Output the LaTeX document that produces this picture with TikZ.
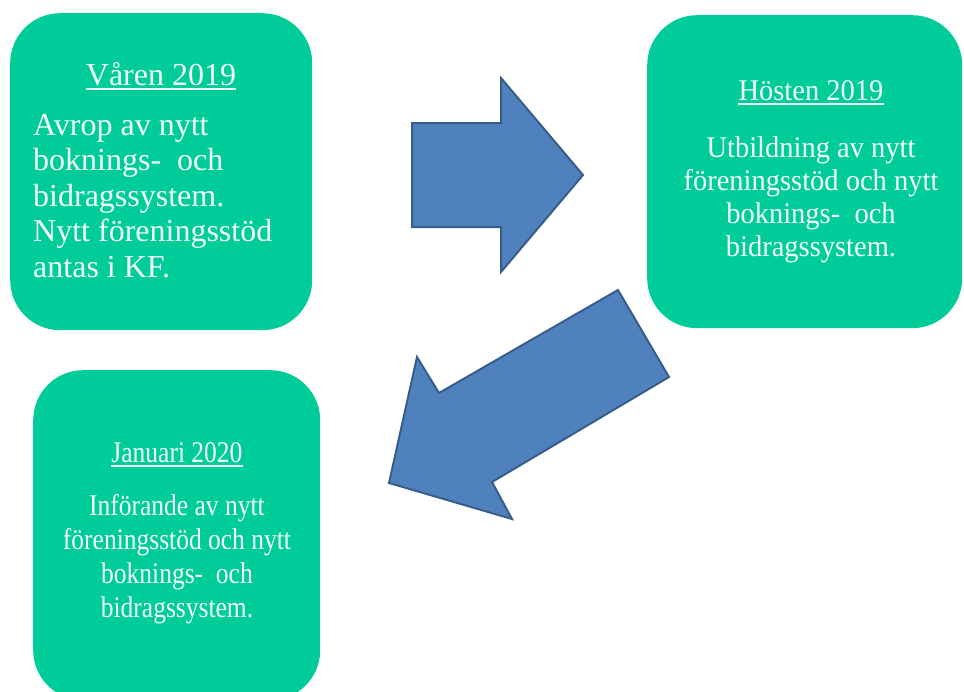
\documentclass[tikz,border=0pt]{standalone}
\usepackage{fontspec}
\setmainfont{Liberation Serif}
\newfontfamily\condensedserif[FakeStretch=0.85]{Liberation Serif}
\newfontfamily\narrowserif[FakeStretch=0.95]{Liberation Serif}
\definecolor{cardgreen}{HTML}{00CC99}
\definecolor{arrowfill}{HTML}{4F81BD}
\definecolor{arrowline}{HTML}{385D8A}
\definecolor{cardtextcol}{HTML}{F2FFFA}
\begin{document}
\begin{tikzpicture}[x=1pt,y=-1pt,
  card/.style={fill=cardgreen, draw=none, rounded corners=50pt, inner sep=0pt, anchor=north west},
  cardtext/.style={text=cardtextcol, inner sep=0pt},
  titleline/.style={draw=cardtextcol, line width=1.6pt},
  blockarrow/.style={fill=arrowfill, draw=arrowline, line width=2pt, line join=miter}]
\useasboundingbox (0,0) rectangle (964,691);
\clip (0,0) rectangle (964,691);
% boxes
\node[card, minimum width=302pt, minimum height=317pt] (b1) at (10,13) {};
\node[card, minimum width=315pt, minimum height=313pt] (b2) at (647,15) {};
\node[card, minimum width=287pt, minimum height=330pt] (b3) at (33,370) {};
% box 1 text
\node[cardtext, anchor=base, font=\fontsize{32}{35.5}\selectfont] (t1) at (161,85) {Våren 2019};
\draw[titleline] ([yshift=-4pt]t1.base west) -- ([yshift=-4pt]t1.base east);
\node[cardtext, anchor=base west, font=\fontsize{32}{35.5}\selectfont] (d1) at (33,135)
  {\begin{tabular}[t]{@{}l@{}}Avrop av nytt\\ boknings- \ och\\ bidragssystem.\\ Nytt föreningsstöd\\ antas i KF.\end{tabular}};
% box 2 text
\node[cardtext, anchor=base, font=\narrowserif\fontsize{30}{33}\selectfont] (t2) at (811,100) {Hösten 2019};
\draw[titleline] ([yshift=-4pt]t2.base west) -- ([yshift=-4pt]t2.base east);
\node[cardtext, anchor=base, font=\narrowserif\fontsize{30}{33}\selectfont] (d2) at (811,157)
  {\begin{tabular}[t]{@{}c@{}}Utbildning av nytt\\ föreningsstöd och nytt\\ boknings- \ och\\ bidragssystem.\end{tabular}};
% box 3 text
\node[cardtext, anchor=base, font=\condensedserif\fontsize{30}{34}\selectfont] (t3) at (177,462) {Januari 2020};
\draw[titleline] ([yshift=-4pt]t3.base west) -- ([yshift=-4pt]t3.base east);
\node[cardtext, anchor=base, font=\condensedserif\fontsize{30}{34}\selectfont] (d3) at (177,515)
  {\begin{tabular}[t]{@{}c@{}}Införande av nytt\\ föreningsstöd och nytt\\ boknings- \ och\\ bidragssystem.\end{tabular}};
% block arrows
\draw[blockarrow] (412,123) -- (501,123) -- (501,78) -- (583,175) -- (501,272) -- (501,227) -- (412,227) -- cycle;
\draw[blockarrow] (618,290) -- (669,377) -- (492,482) -- (512,519) -- (389,483) -- (417,357) -- (439,393) -- cycle;
\end{tikzpicture}
\end{document}
